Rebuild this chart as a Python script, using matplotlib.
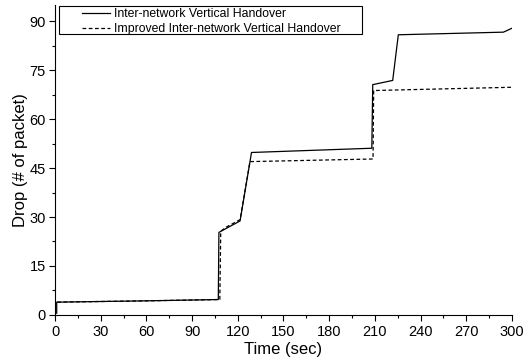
# Drop vs time for the two handover schemes

import matplotlib
matplotlib.use('Agg')
import matplotlib.pyplot as plt
from matplotlib.ticker import MultipleLocator
from matplotlib.patches import Rectangle

plt.rcParams['font.family'] = ['Liberation Sans', 'DejaVu Sans']

# Inter-network vertical handover (solid)
t_ivh = [1.1, 1.1, 60, 107.2, 107.6, 121.5, 129, 208, 208.6, 221.7, 225.4, 294.4, 300]
d_ivh = [0.5, 3.9, 4.3, 4.7, 25.3, 28.8, 49.8, 51.1, 70.6, 71.9, 85.9, 86.7, 87.9]

# Improved inter-network vertical handover (dashed)
t_imp = [1.5, 60, 108.2, 108.8, 112, 121.5, 128, 208.8, 209.2, 300]
d_imp = [3.9, 4.3, 4.7, 25.6, 26.8, 29.2, 47.0, 47.8, 68.8, 69.8]

x_ticks = [0, 30, 60, 90, 120, 150, 180, 210, 240, 270, 300]
y_ticks = [0, 15, 30, 45, 60, 75, 90]

W, H = 524, 364
fig = plt.figure(figsize=(W / 100, H / 100), dpi=100)
ax = fig.add_axes([0.105, 0.135, 0.872, 0.851])

ax.plot(t_ivh, d_ivh, color='black', lw=0.9, ls='-', label='Inter-network Vertical Handover')
ax.plot(t_imp, d_imp, color='black', lw=0.9, ls=(0, (3, 2)), label='Improved Inter-network Vertical Handover')

ax.set_xlim(0, 300)
ax.set_ylim(0, 95)
ax.set_xticks(x_ticks)
ax.set_yticks(y_ticks)
ax.xaxis.set_minor_locator(MultipleLocator(15))
ax.yaxis.set_minor_locator(MultipleLocator(7.5))
ax.tick_params(which='major', direction='out', length=4, width=0.8, labelsize=10.5)
ax.tick_params(which='minor', direction='out', length=2.5, width=0.8)
ax.tick_params(axis='x', pad=3.5)
ax.tick_params(axis='y', pad=2.5)

ax.spines['top'].set_visible(False)
ax.spines['right'].set_visible(False)

ax.set_xlabel('Time (sec)', fontsize=12, labelpad=2)
ax.set_ylabel('Drop (# of packet)', fontsize=12, labelpad=1)

# legend without its own frame, box drawn separately (Origin style)
leg = ax.legend(loc='upper left', bbox_to_anchor=(82 / W, 1 - 8 / H),
                bbox_transform=fig.transFigure, fontsize=8.8, frameon=False,
                borderpad=0.0, labelspacing=0.25, handlelength=2.3,
                handletextpad=0.35, borderaxespad=0.0)
fig.patches.append(Rectangle((59 / W, 1 - 34 / H), (362 - 59) / W, 28 / H,
                             transform=fig.transFigure, fill=False,
                             edgecolor='black', lw=0.8))

fig.savefig('out.png', dpi=100)
